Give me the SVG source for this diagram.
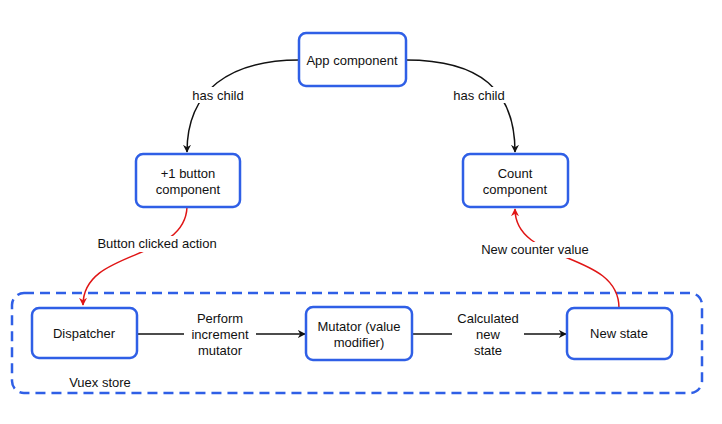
<svg xmlns="http://www.w3.org/2000/svg" width="722" height="424" viewBox="0 0 722 424">
<defs>
<style>
.node{fill:#fff;stroke:#2f5fe6;stroke-width:2.5}
.t{font-family:"Liberation Sans",Arial,sans-serif;font-size:13px;fill:#111;text-anchor:middle}
.lbl{fill:#fff;stroke:none}
.blk{fill:none;stroke:#111;stroke-width:1.5}
.red{fill:none;stroke:#e01515;stroke-width:1.5}
</style>
<marker id="ab" viewBox="0 0 10 10" refX="9" refY="5" markerWidth="8" markerHeight="8" orient="auto" markerUnits="userSpaceOnUse"><path d="M0,0 L10,5 L0,10 L3,5 z" fill="#111"/></marker>
<marker id="ar" viewBox="0 0 10 10" refX="9" refY="5" markerWidth="8" markerHeight="8" orient="auto" markerUnits="userSpaceOnUse"><path d="M0,0 L10,5 L0,10 L3,5 z" fill="#e01515"/></marker>
</defs>
<rect width="722" height="424" fill="#fff"/>
<g id="vuex-store">
<rect x="12" y="293" width="690" height="100" rx="12" fill="none" stroke="#2f5fe6" stroke-width="2.5" stroke-dasharray="10,6"/>
<text class="t" x="100" y="387">Vuex store</text>
</g>
<g id="connectors">
<path class="blk" d="M299,60 C230,60 187,90 187,152" marker-end="url(#ab)"/>
<path class="blk" d="M406,60 C480,60 515,90 515,152" marker-end="url(#ab)"/>
<path class="red" d="M187,207 C185,262 83,248 83,305" marker-end="url(#ar)"/>
<path class="red" d="M619,308 C619,250 515,265 515,209" marker-end="url(#ar)"/>
<path class="blk" d="M137,334 L305,334" marker-end="url(#ab)"/>
<path class="blk" d="M412,334 L566,334" marker-end="url(#ab)"/>
<rect class="lbl" x="186" y="87" width="64" height="16"/>
<text class="t" x="218" y="100">has child</text>
<rect class="lbl" x="447" y="87" width="64" height="16"/>
<text class="t" x="479" y="100">has child</text>
<rect class="lbl" x="86" y="236" width="144" height="16"/>
<text class="t" x="157" y="248">Button clicked action</text>
<rect class="lbl" x="474" y="242" width="122" height="16"/>
<text class="t" x="535" y="254">New counter value</text>
<rect class="lbl" x="184" y="311" width="72" height="46"/>
<text class="t" x="220" y="323">Perform</text>
<text class="t" x="220" y="339">increment</text>
<text class="t" x="220" y="355">mutator</text>
<rect class="lbl" x="452" y="311" width="72" height="46"/>
<text class="t" x="488" y="323">Calculated</text>
<text class="t" x="488" y="339">new</text>
<text class="t" x="488" y="355">state</text>
</g>
<g id="app-component">
<rect class="node" x="299" y="33" width="107" height="53" rx="7"/>
<text class="t" x="352" y="65">App component</text>
</g>
<g id="button-component">
<rect class="node" x="136" y="154" width="104" height="53" rx="7"/>
<text class="t" x="188" y="178">+1 button</text>
<text class="t" x="188" y="194">component</text>
</g>
<g id="count-component">
<rect class="node" x="463" y="154" width="105" height="53" rx="7"/>
<text class="t" x="515" y="178">Count</text>
<text class="t" x="515" y="194">component</text>
</g>
<g id="dispatcher">
<rect class="node" x="32" y="308" width="105" height="50" rx="7"/>
<text class="t" x="84" y="338">Dispatcher</text>
</g>
<g id="mutator">
<rect class="node" x="306" y="307" width="106" height="53" rx="7"/>
<text class="t" x="359" y="331">Mutator (value</text>
<text class="t" x="359" y="347">modifier)</text>
</g>
<g id="new-state">
<rect class="node" x="567" y="308" width="105" height="51" rx="7"/>
<text class="t" x="619" y="338">New state</text>
</g>
</svg>
